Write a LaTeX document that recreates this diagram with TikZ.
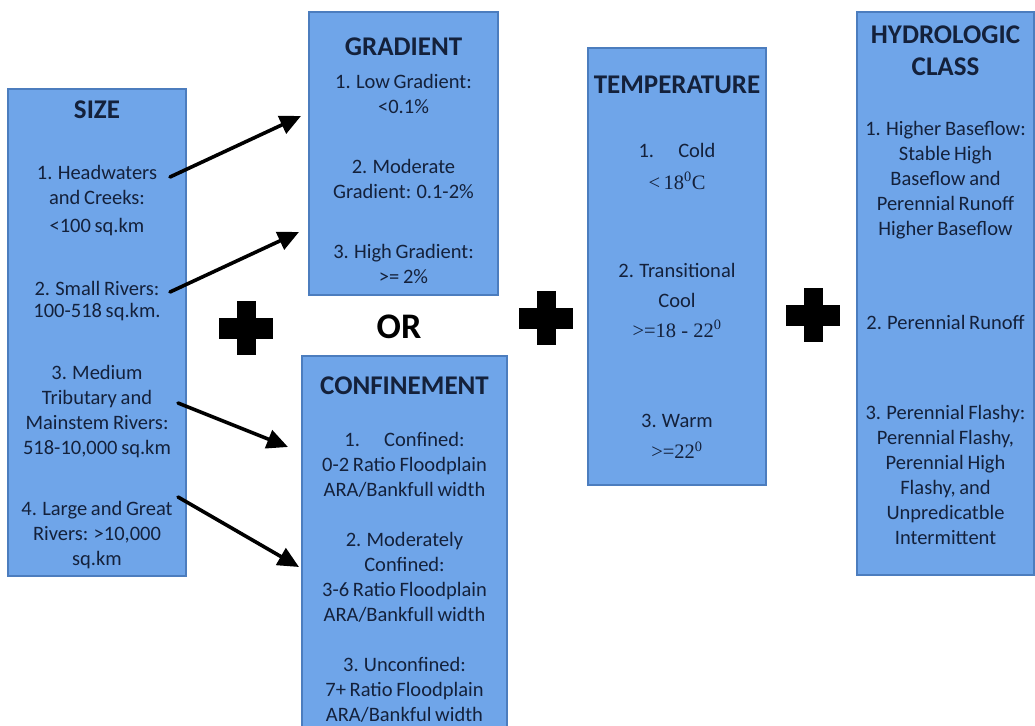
\documentclass[tikz,border=0pt]{standalone}
\usepackage{fontspec}
\setmainfont[WordSpace=0.8]{Carlito}
\newfontfamily\tnr{Liberation Serif}
\usetikzlibrary{arrows.meta}
\definecolor{boxfill}{HTML}{6FA5E9}
\definecolor{boxline}{HTML}{4C7DBE}
\definecolor{ink}{HTML}{14213B}
\tikzset{
  panel/.style={draw=boxline, line width=1.6pt, fill=boxfill, rectangle, inner sep=0pt},
  heading/.style={text=ink, font=\fontsize{27}{30}\selectfont\bfseries, align=center, inner sep=0pt},
  item/.style={text=ink, font=\fontsize{20.5}{25}\selectfont, align=center, inner sep=0pt},
  link/.style={line width=3.6pt, -{Triangle[length=21pt,width=19pt]}, line cap=round},
  crossmark/.style={fill=black}
}
\newcommand{\crosssym}[2]{% centre x, centre y
  \fill[crossmark] (#1-9.5,#2-27) rectangle (#1+9.5,#2+27);
  \fill[crossmark] (#1-27,#2-10.5) rectangle (#1+27,#2+10.5);
}
\begin{document}
\begin{tikzpicture}[x=1pt,y=-1pt]
\useasboundingbox (0,0) rectangle (1035,725);
\fill[white] (0,0) rectangle (1035,725);

% panels
\node[panel, minimum width=178pt, minimum height=487pt] (size) at (97,332.5) {};
\node[panel, minimum width=189pt, minimum height=283pt] (grad) at (403.5,153.5) {};
\node[panel, minimum width=205pt, minimum height=385pt] (conf) at (404.5,548.5) {};
\node[panel, minimum width=178pt, minimum height=437pt] (temp) at (677,266.5) {};
\node[panel, minimum width=177pt, minimum height=563pt] (hydro) at (945.5,293.5) {};

% SIZE
\node[heading] (s0) at (97,110) {SIZE};
\node[item] (s1) at (97,201) {1. Headwaters\\and Creeks:\\[3pt]<100 sq.km};
\node[item] (s2) at (97,301) {2. Small Rivers:\\[-3pt]100-518 sq.km.};
\node[item] (s3) at (97,412) {3. Medium\\Tributary and\\Mainstem Rivers:\\518-10,000 sq.km};
\node[item] (s4) at (97,535) {4. Large and Great\\Rivers: >10,000\\sq.km};

% GRADIENT
\node[heading] (g0) at (403.5,47) {GRADIENT};
\node[item] (g1) at (403.5,93.5) {1. Low Gradient:\\<0.1\%};
\node[item] (g2) at (403.5,178.5) {2. Moderate\\Gradient: 0.1-2\%};
\node[item] (g3) at (403.5,263.5) {3. High Gradient:\\>= 2\%};

% CONFINEMENT
\node[heading] (c0) at (404.5,386) {CONFINEMENT};
\node[item] (c1) at (404.5,465) {1.\quad\ Confined:\\0-2 Ratio Floodplain\\ARA/Bankfull width};
\node[item] (c2) at (404.5,577.5) {2. Moderately\\Confined:\\3-6 Ratio Floodplain\\ARA/Bankfull width};
\node[item] (c3) at (404.5,690) {3. Unconfined:\\7+ Ratio Floodplain\\ARA/Bankful width};

% TEMPERATURE
\node[heading] (t0) at (677,85) {TEMPERATURE};
\node[item] (t1) at (677,166) {1.\quad\ Cold\\[7pt]{\tnr <\,18\textsuperscript{0}C}};
\node[item] (t2) at (677,300) {2. Transitional\\[5pt]Cool\\[5pt]{\tnr >=18 - 22\textsuperscript{0}}};
\node[item] (t3) at (677,436.5) {3. Warm\\[6pt]{\tnr >=22\textsuperscript{0}}};

% HYDROLOGIC CLASS
\node[heading] (h0) at (945.5,50.5) {HYDROLOGIC\\[2pt]CLASS};
\node[item] (h1) at (945.5,180) {1. Higher Baseflow:\\Stable High\\Baseflow and\\Perennial Runoff\\Higher Baseflow};
\node[item] (h2) at (945.5,322) {2. Perennial Runoff};
\node[item] (h3) at (945.5,474.5) {3. Perennial Flashy:\\Perennial Flashy,\\Perennial High\\Flashy, and\\Unpredicatble\\Intermittent};

% OR between the two alternatives
\node[text=black, font=\fontsize{36}{38}\selectfont\bfseries, inner sep=0pt] (or) at (399,327) {OR};

% plus signs
\crosssym{246}{328}
\crosssym{546}{318}
\crosssym{813}{315}

% arrows from size classes to gradient / confinement
\coordinate (a1s) at (170,177);
\coordinate (a1e) at (301,116);
\coordinate (a2s) at (170,292);
\coordinate (a2e) at (299,232);
\coordinate (a3s) at (178,403);
\coordinate (a3e) at (288,447);
\coordinate (a4s) at (178,497);
\coordinate (a4e) at (299,567);
\draw[link] (a1s) -- (a1e);
\draw[link] (a2s) -- (a2e);
\draw[link] (a3s) -- (a3e);
\draw[link] (a4s) -- (a4e);
\end{tikzpicture}
\end{document}
